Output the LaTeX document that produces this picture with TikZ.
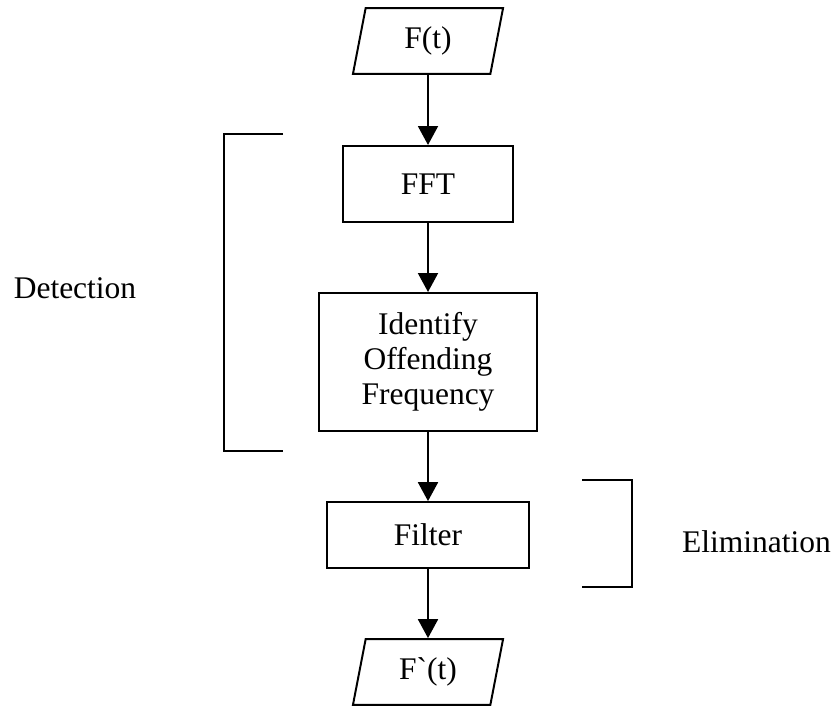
\documentclass[tikz,border=0pt]{standalone}
\usepackage{fontspec}
\setmainfont{Liberation Serif}
\usetikzlibrary{shapes.geometric,arrows.meta}
\begin{document}
\begin{tikzpicture}[x=0.381pt,y=-0.381pt,font=\fontsize{12}{13.3}\selectfont,
  proc/.style={rectangle, draw=black, line width=0.75pt, align=center, inner sep=0pt},
  io/.style={trapezium, trapezium left angle=66, trapezium right angle=114,
    trapezium stretches body, draw=black, line width=0.75pt,
    minimum width=57.2pt, minimum height=25.1pt, inner sep=0pt},
  flow/.style={-{Triangle[length=7.2pt,width=7.6pt]}, line width=0.75pt},
  brack/.style={line width=0.75pt}]
\useasboundingbox (0,0) rectangle (840,709);
\node [io] (fin) at (428,41) {F(t)};
\node [proc, minimum width=64.8pt, minimum height=29pt] (fft) at (428,184) {FFT};
\node [proc, minimum width=83.4pt, minimum height=52.6pt] (ident) at (428,362) {Identify\\Offending\\Frequency};
\node [proc, minimum width=76.6pt, minimum height=25.1pt] (filt) at (428,535) {Filter};
\node [io] (fout) at (428,672) {F\textasciigrave(t)};
\draw [flow] (fin.south) -- (fft.north);
\draw [flow] (fft.south) -- (ident.north);
\draw [flow] (ident.south) -- (filt.north);
\draw [flow] (filt.south) -- (fout.north);
\draw [brack] (283,134) -- (224,134) -- (224,451) -- (283,451);
\draw [brack] (582,480) -- (632,480) -- (632,587) -- (582,587);
\node (det) at (75,288) {Detection};
\node (elim) at (756.5,542) {Elimination};
\end{tikzpicture}
\end{document}
